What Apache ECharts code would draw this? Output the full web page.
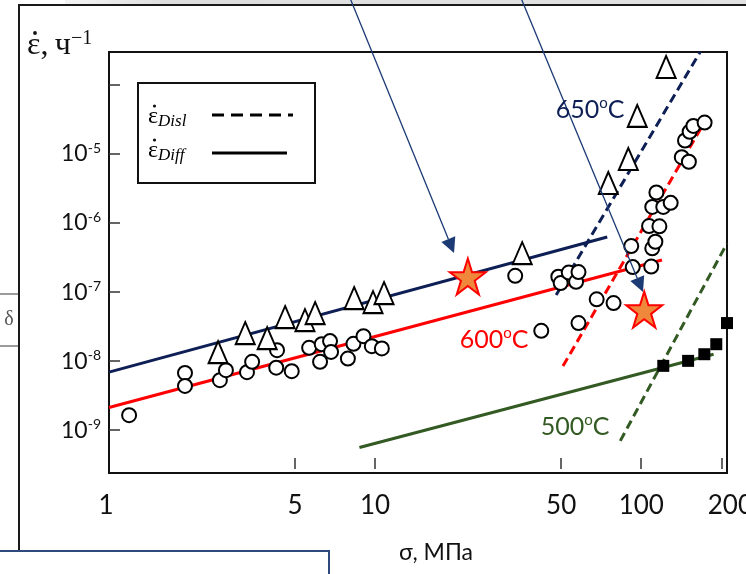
<!DOCTYPE html>
<html>
<head>
<meta charset="utf-8">
<script src="https://cdn.jsdelivr.net/npm/echarts@6/dist/echarts.min.js"></script>
<style>
html, body { margin: 0; padding: 0; background: #fff; }
#chart { width: 746px; height: 574px; }
</style>
</head>
<body>
<div id="chart"></div>
<script>
// Creep data: stress σ (MPa) vs strain rate ε̇ (1/h)

// 600 °C measurements (open circles)
const circles600 = [
  [1.19, 1.65e-9], [1.93, 6.76e-9], [1.93, 4.38e-9], [2.61, 5.31e-9], [2.75, 7.41e-9],
  [3.30, 6.93e-9], [3.45, 9.77e-9], [4.28, 1.44e-8], [4.25, 8.05e-9], [4.86, 7.16e-9],
  [5.65, 1.56e-8], [6.21, 9.77e-9], [6.30, 1.76e-8], [6.77, 1.95e-8], [6.83, 1.36e-8],
  [7.90, 1.09e-8], [8.29, 1.78e-8], [9.04, 2.30e-8], [9.72, 1.65e-8], [10.6, 1.53e-8],
  [33.6, 1.72e-7], [42.1, 2.75e-8], [48.8, 1.67e-7], [49.8, 1.35e-7], [53.4, 1.92e-7],
  [56.9, 1.41e-7], [58.1, 1.95e-7], [58.1, 3.56e-8], [68.0, 7.87e-8], [78.7, 6.93e-8],
  [91.7, 4.64e-7], [92.9, 2.30e-7], [109, 2.34e-7], [110, 4.30e-7], [113, 5.36e-7],
  [107, 9.05e-7], [117, 8.96e-7], [110, 1.71e-6], [121, 1.71e-6], [129, 1.96e-6],
  [114, 2.77e-6], [142, 8.99e-6], [151, 7.73e-6], [146, 1.57e-5], [152, 2.10e-5],
  [157, 2.55e-5], [173, 2.85e-5]
];

// 650 °C measurements (open triangles)
const triangles650 = [
  [2.57, 1.35e-8], [3.25, 2.55e-8], [3.93, 2.15e-8], [4.59, 4.35e-8], [5.45, 3.93e-8],
  [5.95, 4.97e-8], [8.34, 8.19e-8], [9.82, 7.16e-8], [10.8, 9.68e-8], [35.7, 3.67e-7],
  [75.2, 3.80e-6], [89.4, 8.47e-6], [96.6, 3.56e-5], [124, 1.82e-4]
];

// 500 °C measurements (filled squares)
const squares500 = [
  [121, 8.55e-9], [150, 1.01e-8], [172.6, 1.26e-8], [191.4, 1.76e-8], [210, 3.56e-8]
];

// Highlighted points (stars)
const starPoints = [[22.3, 1.68e-7], [102.6, 5.57e-8]];

// Model lines: diffusion (solid) and dislocation (dashed) creep, start/end points
const diff650 = [[1, 6.93e-9], [74.5, 6.27e-7]];
const disl650 = [[47.9, 9.06e-8], [166.7, 3.04e-4]];
const diff600 = [[1, 2.13e-9], [119.6, 2.91e-7]];
const disl600 = [[50.8, 8.48e-9], [169.6, 2.55e-5]];
const diff500 = [[8.73, 5.61e-10], [187, 1.26e-8]];
const disl500 = [[83.4, 7.0e-10], [210, 5.08e-7]];

// Axis ticks and labels
const xTickValues = [5, 10, 50, 100, 200];
const xLabelValues = [1, 5, 10, 50, 100, 200];
const yTickValues = [1e-9, 1e-8, 1e-7, 1e-6, 1e-5, 1e-4];
const yLabelValues = [1e-9, 1e-8, 1e-7, 1e-6, 1e-5];

const NAVY = '#0e1f55';
const RED = '#ff0000';
const GREEN = '#325a22';
const ARROW = '#1c3a74';
const SANS = 'Lato, "Open Sans", sans-serif';
const SERIF = '"Liberation Serif", "DejaVu Serif", serif';

const chart = echarts.init(document.getElementById('chart'), null, { renderer: 'canvas' });

function fitLine(data, color, dashed) {
  return {
    type: 'line', data: data, symbol: 'none', silent: true, z: 2,
    lineStyle: { color: color, width: 3, type: dashed ? [9, 5] : 'solid' }
  };
}

function arrow(x0, y0, x1, y1, color) {
  const dx = x1 - x0, dy = y1 - y0, L = Math.hypot(dx, dy);
  const ux = dx / L, uy = dy / L, hl = 15, hw = 7.5;
  const bx = x1 - ux * hl, by = y1 - uy * hl;
  return [
    { type: 'line', silent: true, z: 100, shape: { x1: x0, y1: y0, x2: bx, y2: by },
      style: { stroke: color, lineWidth: 1.3 } },
    { type: 'polygon', silent: true, z: 100,
      shape: { points: [[x1, y1], [bx - uy * hw, by + ux * hw], [bx + uy * hw, by - ux * hw]] },
      style: { fill: color } }
  ];
}

function label(x, y, rich, text, align) {
  return {
    type: 'text', x: x, y: y, z: 110, silent: true,
    style: { text: text, rich: rich, align: align || 'left', verticalAlign: 'middle',
      textAlign: align || 'left', textVerticalAlign: 'middle' }
  };
}

// dot of the time-derivative sign above ε
function dot(cx, cy, r) {
  return { type: 'circle', silent: true, z: 111, shape: { cx: cx, cy: cy, r: r }, style: { fill: '#111' } };
}

function tempLabel(x, y, t, color) {
  return label(x, y, {
    t: { fontFamily: SANS, fontSize: 25, lineHeight: 28, fill: color, color: color },
    o: { fontFamily: SANS, fontSize: 15, lineHeight: 15, verticalAlign: 'top', fill: color, color: color }
  }, '{t|' + t + '}{o|o}{t|C}', 'center');
}

const legendRich = {
  e: { fontFamily: SERIF, fontSize: 24, lineHeight: 26, fill: '#000' },
  s: { fontFamily: SERIF, fontStyle: 'italic', fontSize: 17, lineHeight: 17, verticalAlign: 'bottom', fill: '#000' }
};

const starPath = 'path://M50,0 L61.2,34.5 L97.6,34.5 L68.2,55.9 L79.4,90.5 L50,69.1 L20.6,90.5 L31.8,55.9 L2.4,34.5 L38.8,34.5 Z';

const tickStyle = { color: '#333', width: 1.5 };
const xAxisRange = { type: 'log', logBase: 10, min: 1, max: 210 };

const option = {
  animation: false,
  backgroundColor: '#fff',
  grid: {
    left: 109, right: 19, top: 52, bottom: 101, containLabel: false, outerBoundsMode: 'none',
    show: true, borderColor: '#111', borderWidth: 2, backgroundColor: 'transparent'
  },
  xAxis: [
    Object.assign({}, xAxisRange, {
      axisLine: { show: true, lineStyle: { color: '#111', width: 2 } },
      axisTick: { show: false },
      axisLabel: {
        customValues: xLabelValues, margin: 20, hideOverlap: false,
        formatter: function (v) {
          const n = Math.round(v);
          if (n === 200) return '{r|200}';
          if (n === 1) return '{l|1}';
          return '{n|' + n + '}';
        },
        rich: {
          n: { fontFamily: SANS, fontSize: 26, color: '#111' },
          r: { fontFamily: SANS, fontSize: 26, color: '#111', padding: [0, 0, 0, 18] },
          l: { fontFamily: SANS, fontSize: 26, color: '#111', padding: [0, 6, 0, 0] }
        }
      },
      splitLine: { show: false }, minorTick: { show: false }
    }),
    Object.assign({}, xAxisRange, {
      // tick marks sit slightly above the bottom axis line
      position: 'bottom', offset: -4,
      axisLine: { show: false },
      axisTick: { show: true, inside: true, length: 11, customValues: xTickValues, lineStyle: tickStyle },
      axisLabel: { show: false },
      splitLine: { show: false }, minorTick: { show: false }
    })
  ],
  yAxis: {
    type: 'log', logBase: 10, min: 2.4e-10, max: 3e-4,
    axisLine: { show: true, lineStyle: { color: '#111', width: 2 } },
    axisTick: { show: true, inside: true, length: 11, customValues: yTickValues, lineStyle: tickStyle },
    axisLabel: {
      customValues: yLabelValues, margin: 8,
      formatter: function (v) { return '{b|10}{s|' + Math.round(Math.log10(v)) + '}'; },
      rich: {
        b: { fontFamily: SANS, fontSize: 23, lineHeight: 26, color: '#111' },
        s: { fontFamily: SANS, fontSize: 14, lineHeight: 14, verticalAlign: 'top', color: '#111' }
      }
    },
    splitLine: { show: false }, minorTick: { show: false }
  },
  series: [
    fitLine(diff650, NAVY, false),
    fitLine(disl650, NAVY, true),
    fitLine(diff600, RED, false),
    fitLine(disl600, RED, true),
    fitLine(diff500, GREEN, false),
    fitLine(disl500, GREEN, true),
    {
      type: 'scatter', data: circles600, symbol: 'circle', symbolSize: 14, z: 5, silent: true,
      itemStyle: { color: '#fff', borderColor: '#000', borderWidth: 2, opacity: 1 }
    },
    {
      type: 'scatter', data: triangles650, symbol: 'triangle', symbolSize: [19, 22], z: 5, silent: true,
      itemStyle: { color: '#fff', borderColor: '#000', borderWidth: 2, opacity: 1 }
    },
    {
      type: 'scatter', data: squares500, symbol: 'rect', symbolSize: 12, z: 5, silent: true, clip: false,
      itemStyle: { color: '#000', opacity: 1 }
    },
    {
      type: 'scatter', data: starPoints, symbol: starPath, symbolSize: 36, z: 6, silent: true,
      itemStyle: { color: '#f0883c', borderColor: '#ff0000', borderWidth: 2, opacity: 1 }
    }
  ],
  graphic: [].concat(
    [
      // slide frame pieces
      { type: 'rect', silent: true, z: 90, shape: { x: 65, y: 0, width: 681, height: 4 },
        style: { fill: new echarts.graphic.LinearGradient(0, 0, 1, 0, [
          { offset: 0, color: '#f4f4f4' }, { offset: 0.15, color: '#dedede' }, { offset: 1, color: '#e2e2e2' }]) } },
      { type: 'line', silent: true, z: 90, shape: { x1: 18, y1: 5, x2: 746, y2: 5 }, style: { stroke: '#1a1a1a', lineWidth: 2 } },
      { type: 'line', silent: true, z: 90, shape: { x1: 19, y1: 5, x2: 19, y2: 551 }, style: { stroke: '#1a1a1a', lineWidth: 2 } },
      { type: 'line', silent: true, z: 90, shape: { x1: 0, y1: 294, x2: 18, y2: 294 }, style: { stroke: '#7a7a7a', lineWidth: 1.5 } },
      { type: 'line', silent: true, z: 90, shape: { x1: 0, y1: 346, x2: 18, y2: 346 }, style: { stroke: '#7a7a7a', lineWidth: 1.5 } },
      label(9, 320, { d: { fontFamily: SERIF, fontSize: 20, fill: '#555' } }, '{d|δ}', 'center'),
      { type: 'rect', silent: true, z: 90, shape: { x: -3, y: 551, width: 332, height: 40 },
        style: { fill: '#fff', stroke: '#2c4a7c', lineWidth: 2 } },

      // legend box
      { type: 'rect', silent: true, z: 95, shape: { x: 138, y: 83, width: 177, height: 100 },
        style: { fill: '#fff', stroke: '#111', lineWidth: 2 } },
      label(148, 117, legendRich, '{e|ε}{s|Disl}'),
      dot(154.5, 106, 1.6),
      { type: 'line', silent: true, z: 110, shape: { x1: 212, y1: 115, x2: 293, y2: 115 },
        style: { stroke: '#000', lineWidth: 3, lineDash: [12, 7] } },
      label(148, 151, legendRich, '{e|ε}{s|Diff}'),
      dot(154.5, 140, 1.6),
      { type: 'line', silent: true, z: 110, shape: { x1: 212, y1: 153, x2: 287, y2: 153 },
        style: { stroke: '#000', lineWidth: 3 } },

      // axis titles
      label(27, 46, {
        m: { fontFamily: SERIF, fontSize: 32, lineHeight: 34, fill: '#111' },
        p: { fontFamily: SERIF, fontSize: 20, lineHeight: 20, verticalAlign: 'top', fill: '#111' }
      }, '{m|ε,\u2009ч}{p|−1}'),
      dot(35, 33, 1.9),
      label(436, 553, { a: { fontFamily: SANS, fontSize: 23, fill: '#111' } }, '{a|σ, МПа}', 'center'),

      // temperature labels
      tempLabel(590, 110, '650', NAVY),
      tempLabel(494, 340, '600', RED),
      tempLabel(575, 427, '500', GREEN)
    ],
    arrow(350, -2, 454, 253, ARROW),
    arrow(521, -2, 643, 292, ARROW)
  )
};

chart.setOption(option);
</script>
</body>
</html>
